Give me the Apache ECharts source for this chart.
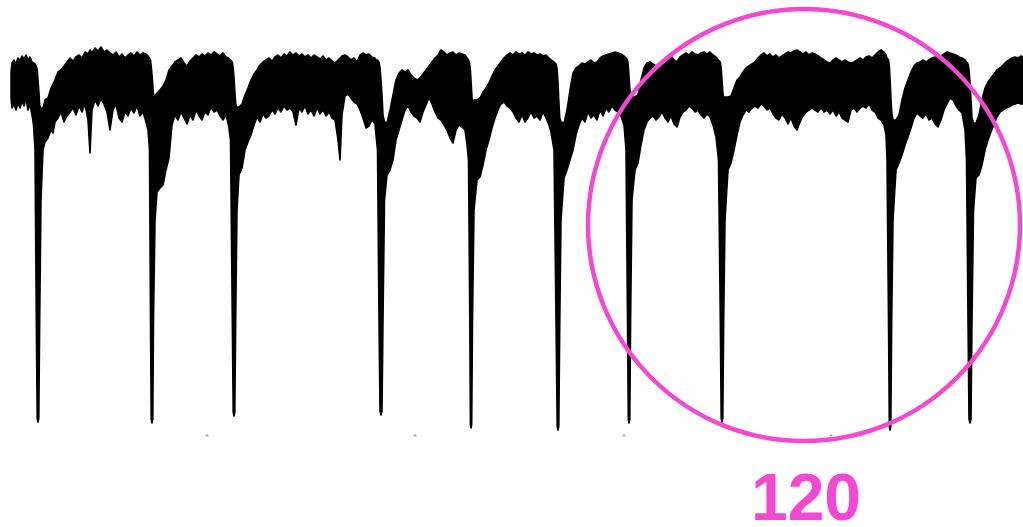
<!DOCTYPE html>
<html>
<head>
<meta charset="utf-8">
<script src="https://cdn.jsdelivr.net/npm/echarts@6/dist/echarts.min.js"></script>
<style>
html,body{margin:0;padding:0;background:#fff;}
#chart{width:1023px;height:527px;}
</style>
</head>
<body>
<div id="chart"></div>
<script>
// Time (s) of each sample of the trace
var timeS = [
  0.11,0.12,0.14,0.16,0.18,0.20,0.22,0.24,0.26,0.28,0.30,0.32,0.335,
  0.35,0.363,0.372,0.38,0.388,0.397,0.41,
  0.43,0.45,0.48,0.51,0.53,0.55,0.58,0.61,0.64,0.67,0.70,0.73,0.76,0.79,0.82,0.85,0.88,0.90,0.92,0.95,0.98,1.01,1.04,1.07,1.10,1.13,1.16,1.19,1.22,1.25,1.28,1.31,1.34,1.37,1.40,1.43,1.46,1.48,
  1.495,1.505,1.512,1.52,1.528,1.535,1.55,
  1.57,1.60,1.63,1.66,1.69,1.72,1.75,1.78,1.81,1.84,1.87,1.90,1.93,1.96,1.99,2.02,2.05,2.08,2.11,2.14,2.17,2.20,2.23,2.26,2.285,
  2.305,2.323,2.332,2.34,2.348,2.357,2.37,
  2.39,2.42,2.45,2.48,2.51,2.54,2.57,2.60,2.63,2.66,2.69,2.72,2.75,2.78,2.81,2.84,2.87,2.90,2.93,2.96,2.99,3.02,3.05,3.08,3.11,3.14,3.17,3.20,3.23,3.26,3.29,3.32,3.35,3.38,3.40,3.42,3.45,3.48,3.51,3.54,3.57,3.60,3.63,3.66,3.69,3.72,3.75,3.76,
  3.775,3.79,3.80,3.81,3.82,3.83,3.845,
  3.87,3.90,3.93,3.96,3.99,4.02,4.05,4.08,4.11,4.14,4.17,4.20,4.23,4.26,4.29,4.32,4.35,4.38,4.41,4.44,4.47,4.50,4.53,4.56,4.59,4.62,4.65,4.67,
  4.685,4.698,4.704,4.71,4.717,4.725,4.74,
  4.77,4.80,4.83,4.86,4.89,4.92,4.95,4.98,5.01,5.04,5.07,5.10,5.13,5.16,5.19,5.22,5.25,5.28,5.31,5.34,5.37,5.40,5.43,5.46,5.49,5.51,
  5.54,5.56,5.572,5.58,5.588,5.598,5.61,
  5.64,5.67,5.70,5.73,5.76,5.79,5.82,5.85,5.88,5.91,5.94,5.97,6.00,6.03,6.06,6.09,6.12,6.15,6.18,6.21,6.24,
  6.26,6.275,6.283,6.29,6.298,6.306,6.32,
  6.35,6.38,6.41,6.44,6.47,6.50,6.53,6.56,6.59,6.62,6.65,6.68,6.71,6.74,6.77,6.80,6.83,6.86,6.89,6.92,6.95,6.98,7.01,7.04,7.07,7.10,7.13,7.16,
  7.185,7.203,7.212,7.22,7.228,7.237,7.25,
  7.28,7.31,7.34,7.37,7.40,7.43,7.46,7.49,7.52,7.55,7.58,7.61,7.64,7.67,7.70,7.73,7.76,7.79,7.82,7.85,7.88,7.91,7.94,7.97,8.00,8.03,8.06,8.09,8.12,8.15,8.18,8.21,8.24,8.27,8.30,8.33,8.36,8.39,8.42,8.45,8.48,8.51,8.54,8.57,8.60,8.63,8.66,8.69,8.72,8.75,8.78,8.81,8.84,8.86,
  8.87,8.885,8.893,8.90,8.908,8.917,8.93,
  8.96,8.99,9.02,9.05,9.08,9.11,9.14,9.17,9.20,9.23,9.26,9.29,9.32,9.35,9.38,9.41,9.44,9.47,9.50,9.53,9.56,9.59,9.62,9.65,
  9.665,9.68,9.69,9.70,9.71,9.72,9.735,
  9.76,9.79,9.82,9.85,9.88,9.91,9.94,9.97,10.00,10.03,10.06,10.09,10.12,10.15,10.18,10.21,10.23
];
// Upper edge of the noise band (current drop, pA)
var topDepth = [
  42,33,30,34,28,31,26,29,25,30,27,32,33,
  34,36,40,50,60,75,78,
  78,70,68,58,54,50,42,40,36,32,28,31,27,25,28,22,24,20,23,18,21,17,22,20,23,25,22,27,24,28,25,23,26,22,25,23,24,26,
  28,30,36,45,55,65,66,
  63,60,56,50,40,36,32,30,28,33,36,31,28,25,27,24,26,23,25,22,24,26,23,27,28,
  30,32,38,48,60,74,77,
  77,74,65,58,50,44,40,35,32,30,28,31,27,25,28,24,26,22,25,23,26,24,27,25,28,25,27,29,26,30,28,31,33,30,28,26,25,27,30,28,32,25,23,25,24,27,28,30,
  30,32,38,50,65,85,92,
  93,80,65,50,43,40,42,40,45,48,50,48,44,40,36,32,28,25,20,22,25,23,22,25,23,24,25,28,
  30,34,40,50,62,75,70,
  70,68,62,58,53,46,40,36,32,28,25,23,25,22,24,23,25,22,24,23,25,24,26,25,28,30,
  32,34,40,52,70,88,92,
  93,80,60,43,38,36,33,34,32,30,33,32,28,26,25,24,23,22,23,24,26,
  28,30,36,46,58,68,67,
  67,65,50,38,33,32,34,36,37,33,30,28,26,30,32,27,25,23,25,22,24,25,23,22,24,22,25,27,
  30,32,38,50,62,68,67,
  67,66,58,50,47,42,38,36,34,32,28,25,23,26,24,27,25,28,26,24,22,23,21,20,22,24,22,25,23,24,26,28,30,32,33,30,28,30,32,30,32,33,32,30,28,30,27,26,28,25,22,20,22,25,
  28,30,36,48,65,82,90,
  90,85,70,58,50,42,36,33,32,30,32,30,28,27,28,26,24,22,23,24,25,27,28,30,
  32,34,40,52,70,88,93,
  93,85,70,58,52,48,44,40,38,35,32,30,28,27,28,26,27
];
// Lower edge of the noise band, including the translocation spikes (pA)
var bottomDepth = [
  68,78,74,80,73,78,71,76,69,80,74,85,95,
  120,290,388,392,388,290,170,
  120,112,108,100,103,92,88,82,92,86,82,78,85,76,82,74,90,123,80,70,76,69,74,82,100,80,74,88,92,82,86,78,83,76,86,82,92,100,
  120,290,389,393,389,290,190,
  162,158,155,140,128,95,85,90,82,88,94,85,90,80,86,90,82,85,77,82,80,86,90,85,95,
  110,290,382,386,382,290,180,
  145,138,120,112,105,95,87,92,84,88,86,80,84,78,82,76,80,78,82,95,78,82,76,84,80,86,78,84,80,86,82,88,90,110,130,85,66,64,68,72,74,80,88,98,96,90,94,105,
  120,290,381,385,381,290,170,
  145,140,130,110,100,90,80,76,82,86,88,92,82,75,68,74,82,88,90,95,100,108,113,100,95,97,100,115,
  130,290,394,398,394,290,180,
  150,147,135,120,110,98,88,80,74,72,76,78,82,88,92,85,92,88,82,88,86,90,82,88,95,102,
  120,290,396,400,396,290,190,
  148,140,130,120,105,95,88,92,82,88,85,90,80,86,78,82,76,80,82,86,95,
  120,290,389,393,389,290,170,
  140,133,115,100,92,88,86,90,87,82,88,92,86,94,97,87,82,80,76,78,82,80,85,88,84,87,95,107,
  130,290,388,392,388,290,190,
  140,133,120,105,92,85,80,82,78,76,78,74,76,80,78,84,88,90,84,88,94,88,96,100,92,86,82,80,78,80,82,78,82,80,84,80,86,82,88,90,92,80,78,82,78,76,78,74,80,82,88,90,95,105,
  130,290,396,400,396,290,190,
  140,133,125,115,107,98,88,83,86,88,84,90,88,94,97,90,80,74,68,70,76,80,83,100,
  130,290,389,393,389,290,180,
  148,145,135,120,110,102,94,87,82,80,78,77,75,74,73,74,74
];
// Faint axis tick marks of the original recording
var tickTimes = [2.07, 4.15, 6.24, 8.31];
var tickDepth = 405;
// Annotation
var annotationLabel = '120';

if (timeS.length !== topDepth.length || timeS.length !== bottomDepth.length) {
  console.error('length mismatch', timeS.length, topDepth.length, bottomDepth.length);
}

var tickData = tickTimes.map(function (t) { return [t, tickDepth]; });

function renderBand(params, api) {
  var pts = [];
  for (var i = 0; i < timeS.length; i++) {
    pts.push(api.coord([timeS[i], topDepth[i]]));
  }
  for (var j = timeS.length - 1; j >= 0; j--) {
    pts.push(api.coord([timeS[j], bottomDepth[j]]));
  }
  return {
    type: 'polygon',
    shape: {points: pts},
    style: {fill: '#000', stroke: '#000', lineWidth: 1.6, lineJoin: 'round'}
  };
}

var pink = '#f447d2';
var chart = echarts.init(document.getElementById('chart'), null, {renderer: 'canvas'});
chart.setOption({
  animation: false,
  backgroundColor: '#ffffff',
  grid: {left: 0, right: 0, top: 30, bottom: 77},
  xAxis: {type: 'value', min: 0, max: 10.23, show: false},
  yAxis: {type: 'value', min: 0, max: 420, inverse: true, show: false},
  series: [
    {
      name: 'trace', type: 'custom', renderItem: renderBand,
      data: [[timeS[0], topDepth[0]]], silent: true, clip: false, z: 2
    },
    {
      name: 'ticks', type: 'scatter', data: tickData,
      symbol: 'triangle', symbolSize: [4, 3], silent: true,
      itemStyle: {color: '#9a9a9a'},
      z: 1
    }
  ],
  graphic: [
    {
      type: 'circle', z: 100, silent: true,
      shape: {cx: 804, cy: 225, r: 216},
      style: {fill: null, stroke: pink, lineWidth: 4.5}
    },
    {
      type: 'text', z: 100, silent: true,
      style: {
        text: annotationLabel, x: 806, y: 502,
        font: 'bold 66px "Liberation Sans", Arial, sans-serif',
        fill: pink,
        textAlign: 'center', textVerticalAlign: 'middle',
        align: 'center', verticalAlign: 'middle'
      }
    }
  ]
});
</script>
</body>
</html>
